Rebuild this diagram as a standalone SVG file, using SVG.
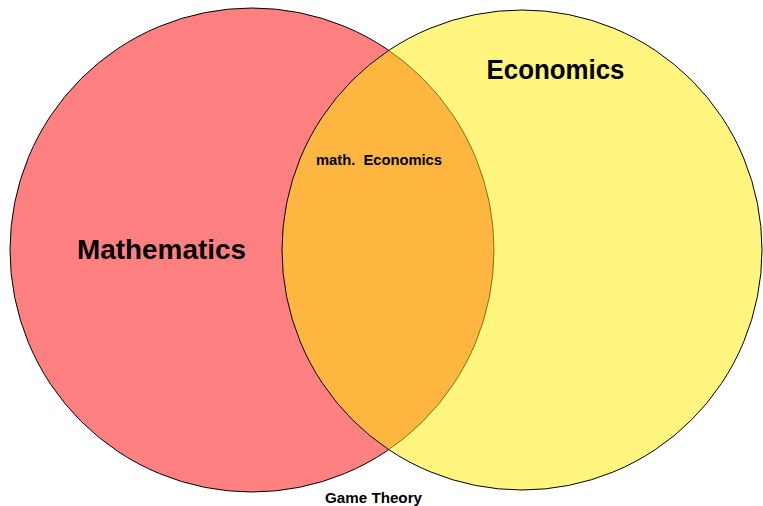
<svg xmlns="http://www.w3.org/2000/svg" width="763" height="506" viewBox="0 0 763 506">
<style>
.set{stroke:#000;stroke-width:1}
.lbl{font-family:"Liberation Sans",Arial,sans-serif;font-weight:bold;fill:#000;text-anchor:middle}
.big{font-size:27px}
.small{font-size:14px}
</style>
<rect width="763" height="506" fill="#fff"/>
<g id="mathematics">
<circle class="set" cx="252" cy="250" r="242" fill="#ff8080"/>
<text class="lbl big" x="161.5" y="258.5" textLength="169" lengthAdjust="spacingAndGlyphs">Mathematics</text>
</g>
<g id="economics">
<circle class="set" cx="522" cy="250" r="240" fill="#ffeb00" fill-opacity="0.5"/>
<text class="lbl big" x="555.5" y="79" textLength="138" lengthAdjust="spacingAndGlyphs">Economics</text>
</g>
<g id="intersection">
<text class="lbl small" x="379" y="165" textLength="126" lengthAdjust="spacingAndGlyphs" xml:space="preserve">math.  Economics</text>
</g>
<g id="game-theory">
<text class="lbl small" x="373.5" y="503" textLength="97" lengthAdjust="spacingAndGlyphs">Game Theory</text>
</g>
<g id="connectors"></g>
</svg>
